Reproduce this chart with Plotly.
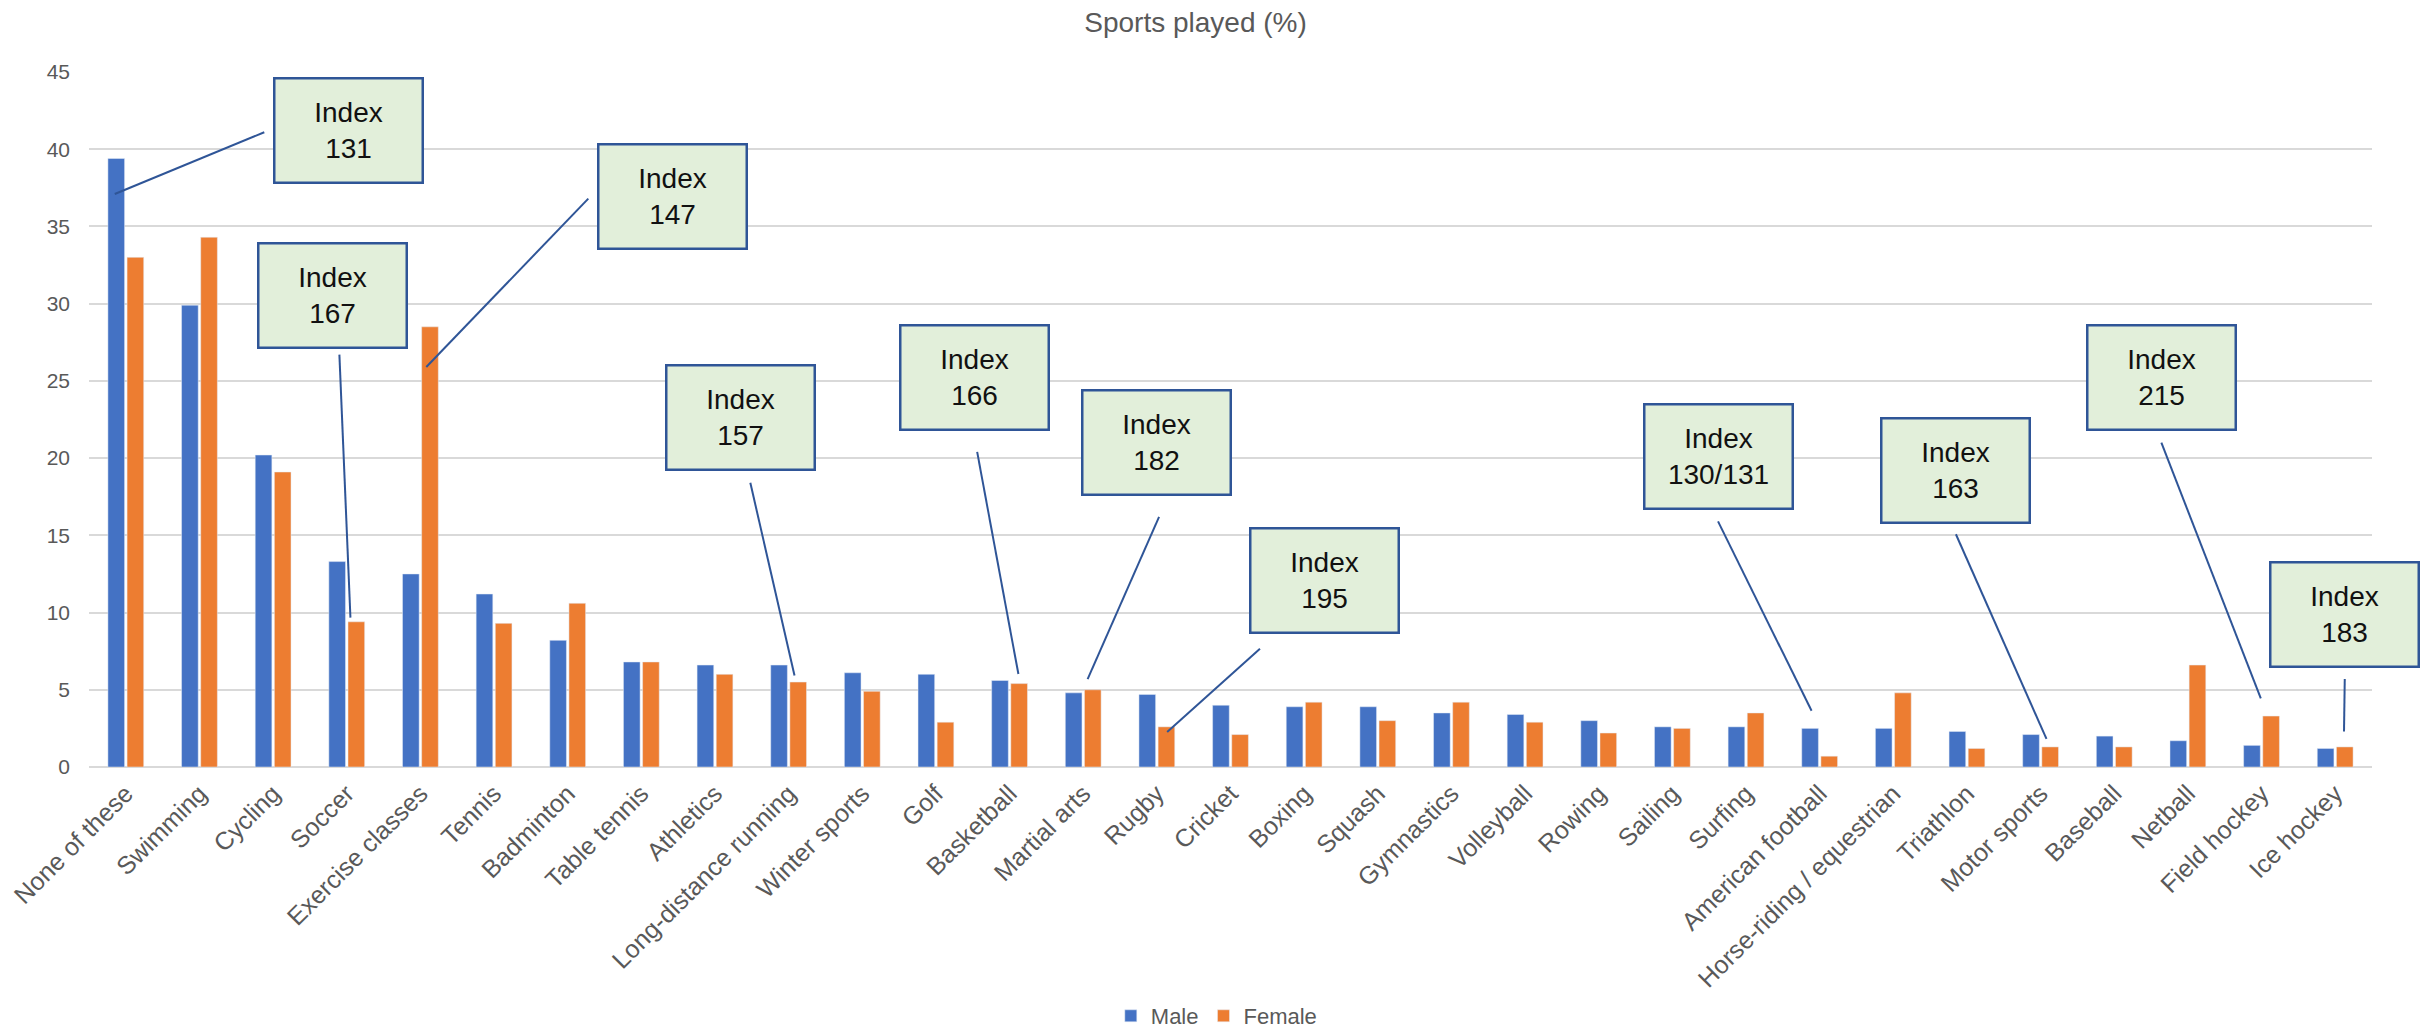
import plotly.graph_objects as go

# Share of respondents playing each sport, by gender (%)
sports = [
    "None of these", "Swimming", "Cycling", "Soccer", "Exercise classes",
    "Tennis", "Badminton", "Table tennis", "Athletics", "Long-distance running",
    "Winter sports", "Golf", "Basketball", "Martial arts", "Rugby", "Cricket",
    "Boxing", "Squash", "Gymnastics", "Volleyball", "Rowing", "Sailing",
    "Surfing", "American football", "Horse-riding / equestrian", "Triathlon",
    "Motor sports", "Baseball", "Netball", "Field hockey", "Ice hockey",
]
male = [
    39.4, 29.9, 20.2, 13.3, 12.5, 11.2, 8.2, 6.8, 6.6, 6.6,
    6.1, 6.0, 5.6, 4.8, 4.7, 4.0, 3.9, 3.9, 3.5, 3.4,
    3.0, 2.6, 2.6, 2.5, 2.5, 2.3, 2.1, 2.0, 1.7, 1.4, 1.2,
]
female = [
    33.0, 34.3, 19.1, 9.4, 28.5, 9.3, 10.6, 6.8, 6.0, 5.5,
    4.9, 2.9, 5.4, 5.0, 2.6, 2.1, 4.2, 3.0, 4.2, 2.9,
    2.2, 2.5, 3.5, 0.7, 4.8, 1.2, 1.3, 1.3, 6.6, 3.3, 1.3,
]

# Index callouts: label, target sport, target series,
# box centre (category position, value), leader start, leader end offset (dx, dy from bar top)
callouts = [
    ("131", "None of these", "Male", (3.03, 41.2), (1.88, 41.1), (-0.02, -2.3)),
    ("147", "Exercise classes", "Female", (7.42, 36.95), (6.28, 36.8), (-0.05, -2.6)),
    ("167", "Soccer", "Female", (2.81, 30.55), (2.90, 26.7), (-0.08, 0.27)),
    ("157", "Long-distance running", "Female", (8.35, 22.6), (8.48, 18.4), (-0.05, 0.43)),
    ("166", "Basketball", "Female", (11.52, 25.2), (11.56, 20.4), (-0.01, 0.62)),
    ("182", "Martial arts", "Female", (14.0, 21.0), (14.03, 16.2), (-0.07, 0.69)),
    ("195", "Rugby", "Female", (16.28, 12.06), (15.40, 7.65), (0.01, -0.33)),
    ("130/131", "American football", "Male", (21.62, 20.1), (21.62, 15.9), (0.02, 1.14)),
    ("163", "Motor sports", "Female", (24.85, 19.22), (24.85, 15.07), (-0.05, 0.52)),
    ("215", "Field hockey", "Female", (27.64, 25.2), (27.64, 21.0), (-0.14, 1.14)),
    ("183", "Ice hockey", "Female", (30.13, 9.9), (30.13, 5.7), (-0.01, 1.0)),
]

BLUE = "#4472C4"
ORANGE = "#ED7D31"
GRID = "#D9D9D9"
TEXT = "#595959"
CALLOUT_LINE = "#2F5597"
CALLOUT_FILL = "#E2EFDA"
FONT = "Liberation Sans, Arial, sans-serif"

BAR_GAP = 0.48
GROUP_GAP = 0.13
half_slot = (1 - BAR_GAP) / 4  # centre offset of each bar within its category

fig = go.Figure()
fig.add_trace(go.Bar(name="Male", x=sports, y=male, marker_color=BLUE))
fig.add_trace(go.Bar(name="Female", x=sports, y=female, marker_color=ORANGE))

series = {"Male": (male, -half_slot), "Female": (female, half_slot)}

for label, sport, who, box, start, end_off in callouts:
    values, offset = series[who]
    idx = sports.index(sport)
    end_x = idx + offset + end_off[0]
    end_y = values[idx] + end_off[1]
    fig.add_shape(
        type="line", xref="x", yref="y",
        x0=start[0], y0=start[1], x1=end_x, y1=end_y,
        line=dict(color=CALLOUT_LINE, width=2),
        layer="above",
    )
    fig.add_annotation(
        x=box[0], y=box[1], xref="x", yref="y",
        text=f"Index<br>{label}", showarrow=False,
        xanchor="center", yanchor="middle",
        width=146, height=102,
        bgcolor=CALLOUT_FILL, bordercolor=CALLOUT_LINE, borderwidth=2.5, borderpad=0,
        font=dict(family=FONT, size=28, color="#111111"),
    )

fig.update_layout(
    width=2430, height=1033,
    margin=dict(l=89, r=58, t=72, b=266),
    paper_bgcolor="white", plot_bgcolor="white",
    barmode="group", bargap=BAR_GAP, bargroupgap=GROUP_GAP,
    title=dict(
        text="Sports played (%)", x=0.492, xanchor="center",
        y=1 - 22 / 1033, yanchor="middle", yref="container",
        font=dict(family=FONT, size=28, color=TEXT),
    ),
    legend=dict(
        orientation="h", x=0.494, xanchor="center",
        y=1 - 1016 / 1033, yanchor="middle", yref="container",
        font=dict(family=FONT, size=22, color=TEXT),
        itemwidth=30, traceorder="normal",
    ),
    showlegend=True,
)
fig.update_xaxes(
    type="category", range=[-0.5, len(sports) - 0.5], automargin=False,
    tickangle=-45, tickfont=dict(family=FONT, size=25, color=TEXT),
    showgrid=False, showline=False, ticks="", ticklabelstandoff=6,
)
fig.update_yaxes(
    range=[0, 45], dtick=5, tick0=0, automargin=False,
    showgrid=True, gridcolor=GRID, gridwidth=2,
    zeroline=True, zerolinecolor=GRID, zerolinewidth=2,
    tickfont=dict(family=FONT, size=21, color=TEXT),
    ticks="", ticklabelstandoff=18,
)

fig.write_html("out.html")
